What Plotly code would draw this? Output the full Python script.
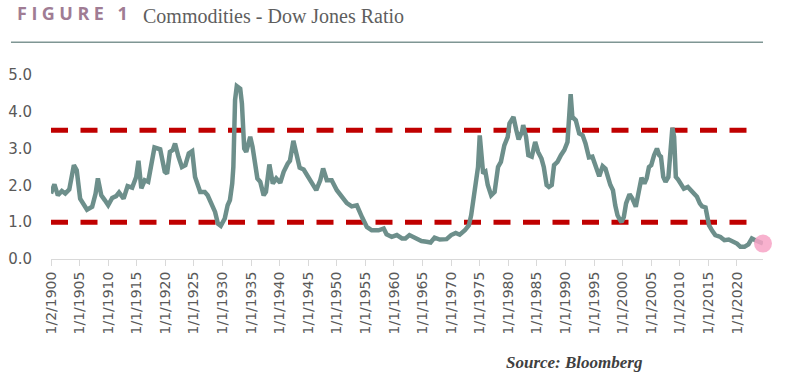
import plotly.graph_objects as go

YEARS = [1900.0, 1900.6, 1901.2, 1901.9, 1902.5, 1903.2, 1904.0, 1904.5, 1905.1, 1905.7,
         1906.3, 1907.2, 1907.8, 1908.2, 1908.8, 1909.4, 1910.0, 1910.7, 1911.4, 1911.9,
         1912.7, 1913.4, 1914.2, 1914.9, 1915.3, 1915.8, 1916.4, 1917.0, 1917.5, 1918.1,
         1919.1, 1919.9, 1920.3, 1920.8, 1921.3, 1921.7, 1922.3, 1922.9, 1923.5, 1924.1,
         1924.7, 1925.2, 1926.1, 1926.9, 1927.4, 1928.1, 1928.7, 1929.2, 1929.7, 1930.4,
         1930.9, 1931.3, 1931.7, 1931.9, 1932.2, 1932.5, 1933.1, 1933.4, 1933.8, 1934.15,
         1934.85, 1935.25, 1935.7, 1936.1, 1936.6, 1937.2, 1937.6, 1938.2, 1938.8, 1939.4,
         1940.1, 1940.7, 1941.4, 1941.8, 1942.4, 1942.9, 1943.5, 1944.2, 1944.9, 1945.6,
         1946.4, 1947.1, 1947.6, 1948.25, 1949.1, 1950.0, 1950.9, 1951.75, 1952.6, 1953.5,
         1954.4, 1955.25, 1956.1, 1957.3, 1958.2, 1958.7, 1959.6, 1960.5, 1961.4, 1962.0,
         1962.7, 1963.7, 1964.8, 1965.7, 1966.4, 1967.1, 1968.0, 1969.2, 1970.0, 1970.8,
         1971.5, 1972.4, 1973.1, 1973.5, 1973.9, 1974.4, 1974.7, 1975.0, 1975.3, 1975.6,
         1976.0, 1976.4, 1977.0, 1977.6, 1978.2, 1978.7, 1979.3, 1979.9, 1980.2, 1980.9,
         1981.4, 1981.8, 1982.4, 1982.6, 1983.1, 1983.5, 1984.1, 1984.7, 1985.2, 1985.8,
         1986.2, 1986.7, 1987.1, 1987.6, 1988.0, 1988.6, 1989.2, 1989.8, 1990.35, 1990.6,
         1990.9, 1991.2, 1991.8, 1992.4, 1993.0, 1993.5, 1994.1, 1994.7, 1995.3, 1995.9,
         1996.5, 1997.0, 1997.85, 1998.3, 1998.7, 1999.1, 1999.5, 1999.8, 2000.2, 2000.6,
         2001.2, 2001.7, 2002.3, 2002.9, 2003.3, 2003.8, 2004.2, 2004.6, 2005.0, 2005.5,
         2006.0, 2006.4, 2006.7, 2007.1, 2007.5, 2008.0, 2008.4, 2008.7, 2009.0, 2009.3,
         2009.7, 2010.1, 2010.7, 2011.4, 2011.9, 2012.5, 2013.0, 2013.5, 2013.9, 2014.5,
         2014.8, 2015.1, 2015.7, 2016.2, 2017.1, 2017.8, 2018.55, 2019.3, 2020.0, 2020.6,
         2021.3, 2022.0, 2022.6, 2023.2, 2024.1, 2024.55]

RATIO = [1.78, 2.03, 1.73, 1.85, 1.78, 1.89, 2.55, 2.41, 1.64, 1.51,
         1.34, 1.42, 1.78, 2.19, 1.73, 1.60, 1.46, 1.66, 1.71, 1.81,
         1.64, 1.98, 1.94, 2.23, 2.67, 1.92, 2.14, 2.10, 2.46, 3.03,
         2.98, 2.37, 2.32, 2.91, 2.96, 3.14, 2.78, 2.50, 2.55, 2.87,
         2.93, 2.23, 1.82, 1.82, 1.73, 1.46, 1.28, 0.96, 0.90, 1.10,
         1.46, 1.60, 2.05, 2.50, 4.32, 4.70, 4.63, 4.22, 3.00, 2.91,
         3.32, 3.05, 2.59, 2.19, 2.10, 1.73, 1.82, 2.57, 2.05, 2.19,
         2.07, 2.37, 2.59, 2.67, 3.21, 2.82, 2.48, 2.43, 2.25, 2.07,
         1.87, 2.14, 2.46, 2.14, 2.14, 1.87, 1.69, 1.52, 1.43, 1.46,
         1.14, 0.87, 0.78, 0.78, 0.83, 0.67, 0.60, 0.65, 0.56, 0.56,
         0.65, 0.56, 0.49, 0.47, 0.45, 0.58, 0.53, 0.54, 0.65, 0.71,
         0.66, 0.78, 0.92, 1.19, 1.60, 2.05, 2.50, 3.36, 2.96, 2.32,
         2.37, 2.01, 1.73, 1.82, 2.50, 2.64, 3.09, 3.32, 3.68, 3.86,
         3.50, 3.25, 3.46, 3.64, 3.32, 2.82, 2.78, 3.18, 2.91, 2.73,
         2.50, 2.01, 1.96, 2.01, 2.55, 2.64, 2.82, 2.96, 3.18, 4.04,
         4.48, 3.86, 3.77, 3.41, 3.36, 3.14, 2.76, 2.78, 2.50, 2.25,
         2.52, 2.45, 2.01, 1.87, 1.46, 1.19, 1.07, 1.00, 1.14, 1.51,
         1.76, 1.64, 1.42, 1.91, 2.21, 2.05, 2.19, 2.50, 2.55, 2.82,
         3.00, 2.82, 2.78, 2.23, 2.10, 2.23, 2.95, 3.57, 3.32, 2.23,
         2.16, 2.05, 1.91, 1.96, 1.87, 1.76, 1.69, 1.51, 1.43, 1.40,
         1.14, 0.92, 0.76, 0.65, 0.60, 0.51, 0.53, 0.47, 0.42, 0.33,
         0.33, 0.40, 0.56, 0.51, 0.47, 0.42]

BAND_X = [1900.0, 2022.0]
UPPER_BAND = [3.5, 3.5]
LOWER_BAND = [1.0, 1.0]

TICK_YEARS = list(range(1900, 2021, 5))
TICK_LABELS = ["1/2/1900"] + [f"1/1/{y}" for y in TICK_YEARS[1:]]

LINE_COLOR = "#6D8F8B"
RED = "#C00000"

fig = go.Figure()
for band in (UPPER_BAND, LOWER_BAND):
    fig.add_trace(go.Scatter(x=BAND_X, y=band, mode="lines",
                             line=dict(color=RED, width=5, dash="17px,12.5px"),
                             hoverinfo="skip", showlegend=False))
fig.add_trace(go.Scatter(x=YEARS, y=RATIO, mode="lines",
                         line=dict(color=LINE_COLOR, width=4.5),
                         showlegend=False))
fig.add_trace(go.Scatter(x=[YEARS[-1]], y=[RATIO[-1]], mode="markers",
                         marker=dict(color="#F7A3C6", size=18, opacity=0.85),
                         cliponaxis=False, showlegend=False))

fig.update_layout(
    width=800, height=382,
    margin=dict(l=51, r=37, t=75, b=123),
    paper_bgcolor="white", plot_bgcolor="white",
    font=dict(family="DejaVu Sans", color="#595959"),
    xaxis=dict(range=[1900, 2024.55], tickvals=TICK_YEARS, ticktext=TICK_LABELS,
               tickangle=-90, ticks="outside", ticklen=6, tickcolor="#D9D9D9",
               showline=True, linecolor="#D9D9D9", linewidth=1,
               showgrid=False, zeroline=False, automargin=False,
               tickfont=dict(size=14, color="#595959")),
    yaxis=dict(range=[0, 5], dtick=1, tickformat=".1f", showgrid=False,
               zeroline=False, showline=False, ticklabelstandoff=18, automargin=False,
               tickfont=dict(size=15, color="#595959")),
    shapes=[dict(type="line", xref="paper", yref="paper",
                 x0=-0.0562, x1=1.0, y0=1.178, y1=1.178,
                 line=dict(color="#7F9694", width=1.3))],
    annotations=[
        dict(xref="paper", yref="paper", x=-0.051, y=1.262, xanchor="left", yanchor="bottom",
             text="<b><span style='letter-spacing:4.5px'>FIGURE 1</span></b>", showarrow=False,
             font=dict(family="Open Sans", size=18, color="#A07C94", weight=800)),
        dict(xref="paper", yref="paper", x=0.127, y=1.25, xanchor="left", yanchor="bottom",
             text="Commodities - Dow Jones Ratio", showarrow=False,
             font=dict(family="Liberation Serif", size=20, color="#5E5E5E")),
        dict(xref="paper", yref="paper", x=0.735, y=-0.565, xanchor="center", yanchor="middle",
             text="<b><i>Source: Bloomberg</i></b>", showarrow=False,
             font=dict(family="Liberation Serif", size=17, color="#404040")),
    ],
)

fig.write_html("out.html", config={"displayModeBar": False},
               post_script="document.body.style.margin='0';")
